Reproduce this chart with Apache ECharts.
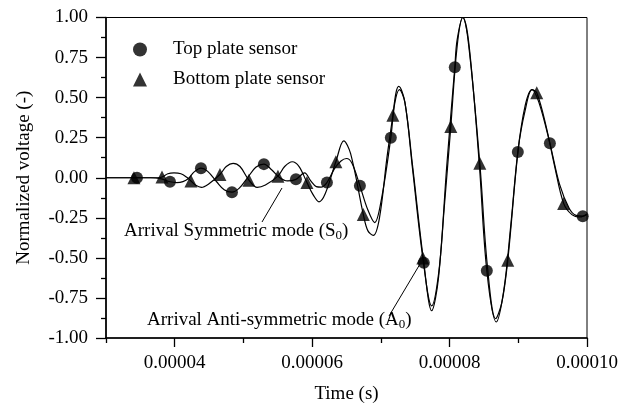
<!DOCTYPE html>
<html>
<head>
<meta charset="utf-8">
<script src="https://cdn.jsdelivr.net/npm/echarts@6/dist/echarts.min.js"></script>
<style>
  html, body { margin: 0; padding: 0; background: #fff; }
  #chart { width: 630px; height: 403px; }
</style>
</head>
<body>
<div id="chart"></div>
<script>
const FONT = '"Liberation Serif", "Times New Roman", serif';

// Top plate sensor: waveform shape samples (time in microseconds)
const topTimeUs = [30, 32, 36.5, 37.9, 40.3, 41.2, 42.0, 42.8, 44.8, 46.1, 47.2, 49.4, 50.6, 51.8,
  54.1, 55.3, 56.4, 58.9, 59.8, 60.6, 61.3, 63.3, 64.2, 65.0, 65.8, 68.1, 69.1, 70.1, 72.0, 72.7,
  73.5, 74.6, 77.4, 78.4, 79.6, 81.1, 81.93, 82.8, 84.3, 86.8, 87.9, 88.9, 91.0, 92.0, 93.0, 96.0,
  97.4, 98.4, 100];
const topValue = [0, 0, 0, -0.005, -0.03, -0.024, -0.005, 0.035, 0.04, -0.025, -0.075, -0.065, 0.0, 0.065,
  0.05, 0.0, -0.02, 0.03, -0.02, -0.055, -0.058, 0.06, 0.105, 0.12, 0.09, -0.2, -0.28, -0.13, 0.46, 0.55,
  0.47, 0.08, -0.83, -0.62, 0.08, 0.86, 1.0, 0.84, 0.1, -0.9, -0.7, -0.3, 0.45, 0.55, 0.47, -0.04,
  -0.19, -0.235, -0.228];
// Top plate sensor: marked samples
const topMarkTimeUs = [34.51, 39.31, 43.82, 48.33, 52.98, 57.64, 62.15, 66.95, 71.45, 76.25, 80.76,
  85.42, 89.93, 94.6, 99.38];
const topMarkValue = [0, -0.025, 0.06, -0.09, 0.085, -0.01, -0.03, -0.05, 0.25, -0.53, 0.69,
  -0.58, 0.16, 0.215, -0.24];

// Bottom plate sensor: waveform shape samples (time in microseconds)
const bottomTimeUs = [30, 32, 36, 37.5, 39.0, 39.9, 40.9, 41.7, 43.0, 43.9, 44.9, 47.5, 48.5, 49.5,
  52.0, 53.2, 56.0, 57.1, 58.1, 60.2, 61.0, 61.9, 64.6, 65.6, 68.1, 68.9, 69.8, 70.9, 72.2, 72.6,
  73.5, 74.6, 77.4, 78.4, 79.2, 81.1, 81.93, 82.8, 85.5, 86.7, 87.6, 90.0, 91.0, 92.0, 94.0, 95.3,
  97.8, 99.0, 100];
const bottomValue = [0, 0, 0, 0, 0.025, 0.03, 0.025, 0.005, -0.045, -0.06, -0.04, 0.07, 0.09, 0.07,
  -0.06, -0.045, 0.07, 0.1, 0.07, -0.11, -0.15, -0.1, 0.23, 0.15, -0.33, -0.36, -0.25, 0.13, 0.53, 0.57,
  0.47, 0.06, -0.8, -0.6, -0.2, 0.82, 1.0, 0.82, -0.55, -0.88, -0.78, 0.18, 0.42, 0.55, 0.33, 0.07,
  -0.23, -0.245, -0.228];
// Bottom plate sensor: marked samples
const bottomMarkTimeUs = [34.07, 38.15, 42.36, 46.58, 50.8, 55.02, 59.24, 63.45, 67.45, 71.75, 76.11,
  80.18, 84.4, 88.47, 92.69, 96.6];
const bottomMarkValue = [0, 0.005, -0.02, 0.02, -0.015, 0.01, -0.03, 0.1, -0.23, 0.39, -0.5,
  0.32, 0.09, -0.515, 0.53, -0.16];

// Axis ticks
const xMajorTicks = [0.00004, 0.00006, 0.00008, 0.0001];
const xMinorTicks = [0.00003, 0.00005, 0.00007, 0.00009];
const seriesNames = ['Top plate sensor', 'Bottom plate sensor'];

function toPoints(timesUs, values) {
  return timesUs.map((t, i) => [t * 1e-6, values[i]]);
}
function curve(shapeT, shapeV, markT, markV) {
  const pts = toPoints(shapeT, shapeV).concat(toPoints(markT, markV));
  pts.sort((a, b) => a[0] - b[0]);
  return pts;
}

const FS = 19;
const textBase = { fontFamily: FONT, fontSize: FS, color: '#000' };
const chart = echarts.init(document.getElementById('chart'), null, { renderer: 'canvas' });

chart.setOption({
  animation: false,
  backgroundColor: '#fff',
  grid: {
    left: 106, right: 43, top: 17.5, bottom: 65,
    containLabel: false, outerBoundsMode: 'none',
    show: true, borderColor: '#000', borderWidth: 1, backgroundColor: 'transparent'
  },
  legend: {
    data: seriesNames,
    orient: 'vertical',
    left: 128, top: 35,
    itemWidth: 14, itemHeight: 14, itemGap: 11,
    selectedMode: false,
    textStyle: Object.assign({ padding: [0, 0, 0, 21] }, textBase),
    itemStyle: { color: '#000' }
  },
  xAxis: [{
    type: 'value', min: 0.00003, max: 0.0001, position: 'bottom',
    name: 'Time (s)', nameLocation: 'middle', nameGap: 47,
    nameTextStyle: textBase,
    axisLine: { show: true, onZero: false, lineStyle: { color: '#000', width: 1.6 } },
    axisTick: { show: true, customValues: xMajorTicks, length: 9, lineStyle: { color: '#000', width: 1.3 } },
    axisLabel: Object.assign({ customValues: xMajorTicks, margin: 16, formatter: v => v.toFixed(5) }, textBase),
    splitLine: { show: false }
  }, {
    type: 'value', min: 0.00003, max: 0.0001, position: 'bottom',
    axisLine: { show: false, onZero: false },
    axisTick: { show: true, customValues: xMinorTicks, length: 5, lineStyle: { color: '#000', width: 1.3 } },
    axisLabel: { show: false },
    splitLine: { show: false }
  }],
  yAxis: {
    type: 'value', min: -1, max: 1, interval: 0.25,
    name: 'Normalized voltage (-)', nameLocation: 'middle', nameGap: 72,
    nameTextStyle: textBase,
    axisLine: { show: true, onZero: false, lineStyle: { color: '#000', width: 1.6 } },
    axisTick: { show: true, length: 10, lineStyle: { color: '#000', width: 1.3 } },
    minorTick: { show: true, splitNumber: 2, length: 5, lineStyle: { color: '#000', width: 1.3 } },
    axisLabel: Object.assign({ margin: 18, formatter: v => v.toFixed(2) }, textBase),
    splitLine: { show: false }
  },
  series: [
    {
      name: 'topCurve', type: 'line', xAxisIndex: 0, smooth: 0.35, symbol: 'none',
      lineStyle: { color: '#000', width: 1.2 }, silent: true,
      data: curve(topTimeUs, topValue, topMarkTimeUs, topMarkValue)
    },
    {
      name: 'bottomCurve', type: 'line', xAxisIndex: 0, smooth: 0.35, symbol: 'none',
      lineStyle: { color: '#000', width: 1.2 }, silent: true,
      data: curve(bottomTimeUs, bottomValue, bottomMarkTimeUs, bottomMarkValue)
    },
    {
      name: seriesNames[0], type: 'scatter', xAxisIndex: 0, symbol: 'circle', symbolSize: 12,
      itemStyle: { color: '#000' }, silent: true,
      data: toPoints(topMarkTimeUs, topMarkValue)
    },
    {
      name: seriesNames[1], type: 'scatter', xAxisIndex: 0, symbol: 'triangle', symbolSize: 13,
      itemStyle: { color: '#000' }, silent: true,
      data: toPoints(bottomMarkTimeUs, bottomMarkValue)
    }
  ],
  graphic: [
    {
      type: 'text', left: 124, top: 220,
      style: {
        text: '{t|Arrival Symmetric mode (S}{s|0}{t|)}',
        rich: {
          t: { fontFamily: FONT, fontSize: FS, lineHeight: 26, fill: '#000' },
          s: { fontFamily: FONT, fontSize: 13, lineHeight: 26, fill: '#000', padding: [9, 0, 0, 0] }
        }
      }
    },
    { type: 'line', shape: { x1: 262, y1: 222, x2: 282, y2: 188 }, style: { stroke: '#000', lineWidth: 1 } },
    {
      type: 'text', left: 147, top: 309,
      style: {
        text: '{t|Arrival Anti-symmetric mode (A}{s|0}{t|)}',
        rich: {
          t: { fontFamily: FONT, fontSize: FS, lineHeight: 26, fill: '#000' },
          s: { fontFamily: FONT, fontSize: 13, lineHeight: 26, fill: '#000', padding: [9, 0, 0, 0] }
        }
      }
    },
    { type: 'line', shape: { x1: 389, y1: 316, x2: 420, y2: 264 }, style: { stroke: '#000', lineWidth: 1 } }
  ]
});
</script>
</body>
</html>
